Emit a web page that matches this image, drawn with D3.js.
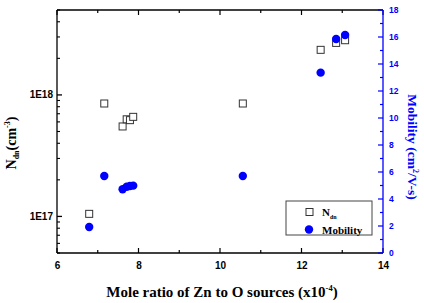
<!DOCTYPE html>
<html><head><meta charset="utf-8">
<script src="https://cdn.jsdelivr.net/npm/d3@7"></script>
<style>body{margin:0;background:#fff}svg{display:block}</style>
</head><body>
<svg id="c" width="424" height="303"></svg>
<script>
const xVals = [6.79, 7.16, 7.61, 7.71, 7.79, 7.87, 10.56, 12.47, 12.85, 13.07];
const ndnVals = [1.05e17, 8.5e17, 5.5e17, 6.3e17, 6.2e17, 6.6e17, 8.5e17, 2.35e18, 2.68e18, 2.82e18];
const mobVals = [1.93, 5.7, 4.72, 4.91, 4.96, 4.99, 5.7, 13.36, 15.85, 16.15];
const xTicks = [6, 8, 10, 12, 14];
const xMinor = [7, 9, 11, 13];
const yLeftTicks = [1e17, 1e18];
const yLeftLabels = ["1E17", "1E18"];
const yRightTicks = [0, 2, 4, 6, 8, 10, 12, 14, 16, 18];

const svg = d3.select("#c");
const L = 57, R = 383, T = 10, B = 253;
const blue = "#0000ff";
const x = d3.scaleLinear().domain([6, 14]).range([L, R]);
const yL = d3.scaleLog().domain([5e16, 5e18]).range([B, T]);
const yR = d3.scaleLinear().domain([0, 18]).range([B, T]);

const sans = "'Liberation Sans', Arial, sans-serif";
const serif = "'Liberation Serif', 'Times New Roman', serif";

// frame
svg.append("line").attr("x1", L).attr("x2", R).attr("y1", T).attr("y2", T).attr("stroke", "#000").attr("stroke-width", 1.3);
svg.append("line").attr("x1", L).attr("x2", R).attr("y1", B).attr("y2", B).attr("stroke", "#000").attr("stroke-width", 1.3);
svg.append("line").attr("x1", L).attr("x2", L).attr("y1", T).attr("y2", B).attr("stroke", "#000").attr("stroke-width", 1.3);

// bottom/top ticks (inward)
const xAll = xTicks.map(v => ({v, len: 5})).concat(xMinor.map(v => ({v, len: 3})));
xAll.forEach(t => {
  svg.append("line").attr("x1", x(t.v)).attr("x2", x(t.v)).attr("y1", B).attr("y2", B - t.len).attr("stroke", "#000").attr("stroke-width", 1.2);
  svg.append("line").attr("x1", x(t.v)).attr("x2", x(t.v)).attr("y1", T).attr("y2", T + t.len).attr("stroke", "#000").attr("stroke-width", 1.2);
});
const xAxis = d3.axisBottom(x).tickValues(xTicks).tickSize(0).tickPadding(9).tickFormat(d3.format("d"));
const gx = svg.append("g").attr("transform", `translate(0,${B})`).call(xAxis);
gx.select(".domain").remove();
gx.selectAll("text").attr("font-family", sans).attr("font-weight", "bold").attr("font-size", 10).attr("fill", "#000");

// left log axis
const minorL = [];
[1e16, 1e17, 1e18].forEach(dec => { for (let k = 2; k <= 9; k++) { const v = k * dec; if (v >= 5e16 && v <= 5e18) minorL.push(v); } });
minorL.forEach(v => svg.append("line").attr("x1", L).attr("x2", L + 3).attr("y1", yL(v)).attr("y2", yL(v)).attr("stroke", "#000").attr("stroke-width", 1.1));
yLeftTicks.forEach((v, i) => {
  svg.append("line").attr("x1", L).attr("x2", L + 5).attr("y1", yL(v)).attr("y2", yL(v)).attr("stroke", "#000").attr("stroke-width", 1.3);
  svg.append("text").attr("x", L - 4).attr("y", yL(v)).attr("dy", "0.35em").attr("text-anchor", "end")
    .attr("font-family", sans).attr("font-weight", "bold").attr("font-size", 10).text(yLeftLabels[i]);
});

// right axis
svg.append("line").attr("x1", R).attr("x2", R).attr("y1", T).attr("y2", B).attr("stroke", blue).attr("stroke-width", 1.3);
for (let v = 0; v <= 18; v++) {
  const major = v % 2 === 0;
  svg.append("line").attr("x1", R).attr("x2", R - (major ? 5 : 3)).attr("y1", yR(v)).attr("y2", yR(v)).attr("stroke", blue).attr("stroke-width", 1.2);
}
yRightTicks.forEach(v => svg.append("text").attr("x", R + 6).attr("y", yR(v)).attr("dy", "0.35em")
  .attr("font-family", sans).attr("font-weight", "bold").attr("font-size", 8.5).attr("fill", blue).text(v));

// data
const pts = xVals.map((xv, i) => ({x: xv, n: ndnVals[i], m: mobVals[i]}));
const s = 7;
svg.append("g").selectAll("rect").data(pts).join("rect")
  .attr("x", d => x(d.x) - s / 2).attr("y", d => yL(d.n) - s / 2).attr("width", s).attr("height", s)
  .attr("fill", "#fff").attr("stroke", "#333").attr("stroke-width", 1);
svg.append("g").selectAll("circle").data(pts).join("circle")
  .attr("cx", d => x(d.x)).attr("cy", d => yR(d.m)).attr("r", 4.2).attr("fill", blue);

// legend
svg.append("rect").attr("x", 286).attr("y", 201).attr("width", 86).attr("height", 34).attr("fill", "#fff").attr("stroke", "#444").attr("stroke-width", 1);
svg.append("rect").attr("x", 309.5 - 3.5).attr("y", 212 - 3.5).attr("width", 7).attr("height", 7).attr("fill", "#fff").attr("stroke", "#333");
svg.append("circle").attr("cx", 309).attr("cy", 229.5).attr("r", 4.2).attr("fill", blue);
const lt1 = svg.append("text").attr("x", 322).attr("y", 215.5).attr("font-family", serif).attr("font-weight", "bold").attr("font-size", 11);
lt1.append("tspan").text("N");
lt1.append("tspan").attr("font-size", 6).attr("dy", 3).text("dn");
svg.append("text").attr("x", 322).attr("y", 233.5).attr("font-family", serif).attr("font-weight", "bold").attr("font-size", 11).text("Mobility");

// axis titles
const xt = svg.append("text").attr("x", 222).attr("y", 297).attr("text-anchor", "middle").attr("font-family", serif).attr("font-weight", "bold").attr("font-size", 15);
xt.append("tspan").text("Mole ratio of Zn to O sources (x10");
xt.append("tspan").attr("font-size", 8.5).attr("dy", -6).text("-4");
xt.append("tspan").attr("dy", 6).text(")");

const yt = svg.append("text").attr("transform", "translate(16,143) rotate(-90)").attr("text-anchor", "middle").attr("font-family", serif).attr("font-weight", "bold").attr("font-size", 14);
yt.append("tspan").text("N");
yt.append("tspan").attr("font-size", 8).attr("dy", 3).text("dn");
yt.append("tspan").attr("dy", -3).text("(cm");
yt.append("tspan").attr("font-size", 8).attr("dy", -6).text("-3");
yt.append("tspan").attr("dy", 6).text(")");

const rt = svg.append("text").attr("transform", "translate(408,147) rotate(90)").attr("text-anchor", "middle").attr("font-family", serif).attr("font-weight", "bold").attr("font-size", 13.5).attr("fill", blue);
rt.append("tspan").text("Mobility (cm");
rt.append("tspan").attr("font-size", 8).attr("dy", -5).text("2");
rt.append("tspan").attr("dy", 5).text("/V-s)");
</script>
</body></html>
